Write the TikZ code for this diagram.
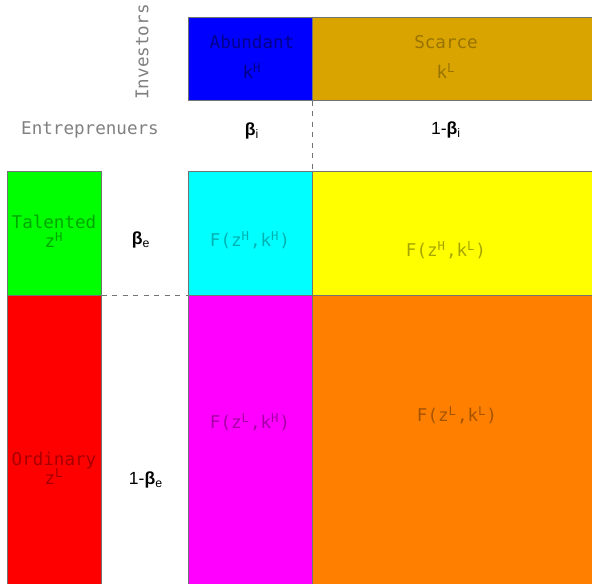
\documentclass[tikz,border=0pt]{standalone}
\usepackage{fontspec}
\newfontfamily\strokefont{DejaVu Sans Mono}
\newfontfamily\sharefont{Liberation Sans}
\definecolor{gold}{RGB}{218,164,0}
\definecolor{orng}{RGB}{255,128,0}
\definecolor{aqua}{RGB}{0,255,255}
\definecolor{lemon}{RGB}{255,255,0}
\definecolor{fuchsia}{RGB}{255,0,255}
\definecolor{lime}{RGB}{0,255,0}
\definecolor{royal}{RGB}{0,0,255}
\definecolor{scarlet}{RGB}{255,0,0}
\begin{document}
\begin{tikzpicture}[x=0.02cm,y=-0.02cm,
		cell/.style={draw=black!55,line width=0.5pt,inner sep=0pt},
		word/.style={font=\strokefont\fontsize{10}{12}\selectfont,text=#1,align=center,inner sep=0pt},
		share/.style={font=\sharefont\fontsize{10}{12}\selectfont,inner sep=0pt}]
			\useasboundingbox (0,0) rectangle (592,584);
			\clip (0,0) rectangle (592,584);
			
			\node[cell,fill=royal,minimum width=2.48cm,minimum height=1.66cm] (abund) at (250,58.5) {};
			\node[cell,fill=gold,minimum width=5.8cm,minimum height=1.66cm] (scarce) at (457,58.5) {};
			\node[cell,fill=lime,minimum width=1.88cm,minimum height=2.48cm] (talent) at (54,233) {};
			\node[cell,fill=scarlet,minimum width=1.88cm,minimum height=6.1cm] (ordin) at (54,447.5) {};
			\node[cell,fill=aqua,minimum width=2.48cm,minimum height=2.48cm] (hh) at (250,233) {};
			\node[cell,fill=lemon,minimum width=5.8cm,minimum height=2.48cm] (hl) at (457,233) {};
			\node[cell,fill=fuchsia,minimum width=2.48cm,minimum height=6.1cm] (lh) at (250,447.5) {};
			\node[cell,fill=orng,minimum width=5.8cm,minimum height=6.1cm] (ll) at (457,447.5) {};
			
			\draw[black!55,dashed] (abund.south east) -- (hh.north east);
			\draw[black!55,dashed] (talent.south east) -- (hh.south west);
			
			\node[word=black!50,rotate=90] (inv) at (142,52) {Investors};
			\node[word=black!50] (entr) at (90,130) {Entreprenuers};
			\node[word=royal!55!black] (abundtxt) at (252,57) {Abundant\\[5pt]k\textsuperscript{H}};
			\node[word=gold!70!black] (scarcetxt) at (446,57) {Scarce\\[5pt]k\textsuperscript{L}};
			\node[word=lime!65!black] (talenttxt) at (54,231) {Talented\\[-1pt]z\textsuperscript{H}};
			\node[word=scarlet!65!black] (ordintxt) at (54,468) {Ordinary\\[-1pt]z\textsuperscript{L}};
			\node[word=aqua!70!black] (hhtxt) at (250,240) {F(z\textsuperscript{H},k\textsuperscript{H})};
			\node[word=lemon!65!black] (hltxt) at (446,250) {F(z\textsuperscript{H},k\textsuperscript{L})};
			\node[word=fuchsia!65!black] (lhtxt) at (250,422) {F(z\textsuperscript{L},k\textsuperscript{H})};
			\node[word=orng!65!black] (lltxt) at (457,415) {F(z\textsuperscript{L},k\textsuperscript{L})};
			
			\node[share] (bi) at (252,131) {\textbf{β}\textsubscript{i}};
			\node[share] (bj) at (446,130) {1-\textbf{β}\textsubscript{i}};
			\node[share] (be) at (141,240) {\textbf{β}\textsubscript{e}};
			\node[share] (bo) at (146,480) {1-\textbf{β}\textsubscript{e}};
		\end{tikzpicture}
\end{document}
